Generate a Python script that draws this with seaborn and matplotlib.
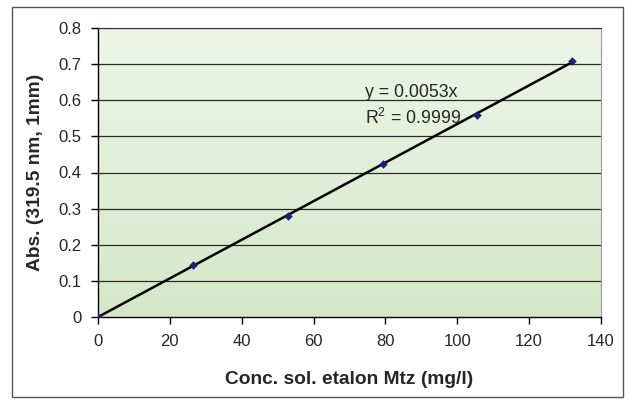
import numpy as np
import pandas as pd
import matplotlib
matplotlib.use("Agg")
import matplotlib.pyplot as plt
import seaborn as sns
from matplotlib.patches import Rectangle

conc = [0, 26.4, 52.8, 79.2, 105.6, 132]
absorb = [0, 0.145, 0.28, 0.423, 0.56, 0.709]
x_ticks = [0, 20, 40, 60, 80, 100, 120, 140]
y_ticks = [0, 0.1, 0.2, 0.3, 0.4, 0.5, 0.6, 0.7, 0.8]
y_tick_labels = ["0", "0.1", "0.2", "0.3", "0.4", "0.5", "0.6", "0.7", "0.8"]
eq_text = "y = 0.0053x"
r2_text = "R$^2$ = 0.9999"

sns.set_theme(style="white")
plt.rcParams["font.family"] = ["Liberation Sans", "DejaVu Sans"]
plt.rcParams["mathtext.fontset"] = "custom"
plt.rcParams["mathtext.rm"] = "Liberation Sans"

df = pd.DataFrame({"conc": conc, "abs": absorb})
xa = np.array(conc)
ya = np.array(absorb)
slope = float(np.sum(xa * ya) / np.sum(xa * xa))
trend = pd.DataFrame({"conc": [0, max(conc)], "abs": [0, slope * max(conc)]})

fig = plt.figure(figsize=(6.3, 4.0), dpi=100)
ax = fig.add_axes([98 / 630, 83 / 400, 503 / 630, 289 / 400])

ax.set_xlim(0, 140)
ax.set_ylim(0, 0.8)

# gradient background
grad = np.linspace(0, 1, 256).reshape(-1, 1)
top = np.array([238, 245, 232]) / 255
bot = np.array([212, 232, 200]) / 255
img = bot[None, None, :] * (1 - grad[:, :, None]) + top[None, None, :] * grad[:, :, None]
ax.imshow(img, extent=[0, 140, 0, 0.8], origin="lower", aspect="auto", zorder=0)

for yv in y_ticks[1:]:
    ax.axhline(yv, color="#2a2a2a", lw=0.9, zorder=1)

sns.lineplot(data=trend, x="conc", y="abs", ax=ax, color="black", lw=1.8, zorder=3)
sns.scatterplot(data=df, x="conc", y="abs", ax=ax, marker="D", s=16,
                color="#1f1f7a", edgecolor="#1f1f7a", zorder=4)

ax.text(74.3, 0.610, eq_text, fontsize=12.8, va="baseline", ha="left", zorder=5)
ax.text(74.3, 0.534, r2_text, fontsize=12.8, va="baseline", ha="left", zorder=5)

ax.set_xticks(x_ticks)
ax.set_xticklabels([str(v) for v in x_ticks], fontsize=12)
ax.set_yticks(y_ticks)
ax.set_yticklabels(y_tick_labels, fontsize=12)
ax.tick_params(axis="both", direction="out", length=5, width=1, color="black", pad=7,
               bottom=True, left=True)

ax.set_xlabel("Conc. sol. etalon Mtz (mg/l)", fontsize=13.8, fontweight="bold", labelpad=16)
ax.set_ylabel("Abs. (319.5 nm, 1mm)", fontsize=13.8, fontweight="bold", labelpad=10)

for s in ["top", "right"]:
    ax.spines[s].set_visible(True)
    ax.spines[s].set_color("#9a9a9a")
    ax.spines[s].set_linewidth(0.8)
ax.spines["top"].set_color("#333333")
for s in ["left", "bottom"]:
    ax.spines[s].set_color("black")
    ax.spines[s].set_linewidth(1.0)

fig.patches.append(Rectangle((12 / 630, 3 / 400), 611 / 630, 390 / 400,
                             transform=fig.transFigure, fill=False,
                             edgecolor="#555555", lw=1.0))

fig.savefig("out.png", dpi=100, facecolor="white")
